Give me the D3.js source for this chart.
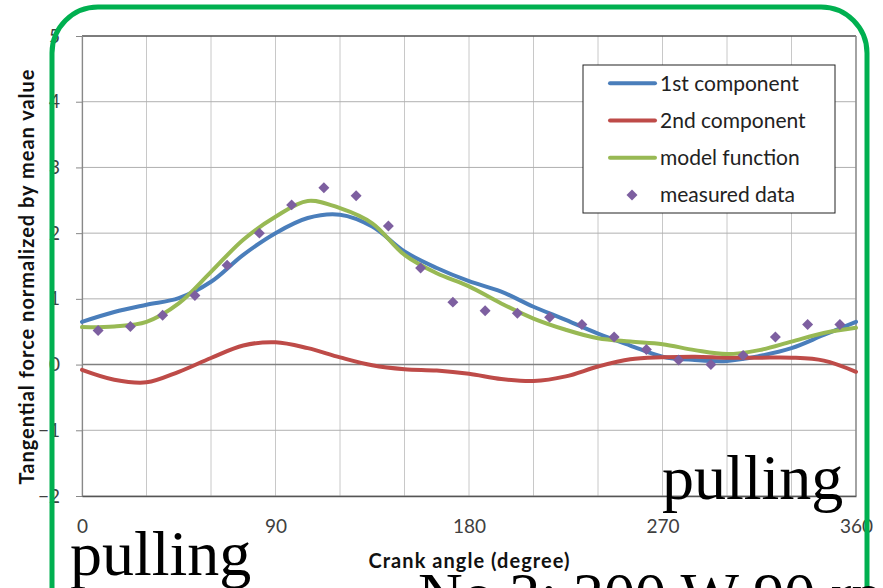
<!DOCTYPE html>
<html>
<head>
<meta charset="utf-8">
<script src="https://cdn.jsdelivr.net/npm/d3@7"></script>
<style>
  html, body { margin: 0; padding: 0; background: #fff; }
  svg { display: block; }
</style>
</head>
<body>
<svg id="chart" width="883" height="588"></svg>
<script>
// Crank angle (degree) at which the smooth curves are sampled
const curveAngles = [0, 15, 30, 45, 60, 75, 90, 105, 120, 135, 150, 165, 180,
  195, 210, 225, 240, 255, 270, 285, 300, 315, 330, 345, 360];

// 1st harmonic component of the normalized tangential force
const firstComponent = [0.65, 0.80, 0.91, 1.01, 1.26, 1.67, 2.00, 2.23, 2.28, 2.10, 1.72, 1.47, 1.27,
  1.11, 0.88, 0.68, 0.47, 0.29, 0.12, 0.07, 0.055, 0.13, 0.25, 0.45, 0.65];

// 2nd harmonic component
const secondComponent = [-0.08, -0.23, -0.27, -0.11, 0.10, 0.29, 0.34, 0.25, 0.11, -0.01, -0.07, -0.09, -0.14,
  -0.22, -0.25, -0.18, -0.03, 0.08, 0.11, 0.12, 0.105, 0.105, 0.105, 0.06, -0.11];

// Model function (sum of components)
const modelFunction = [0.57, 0.58, 0.65, 0.93, 1.41, 1.90, 2.25, 2.49, 2.38, 2.15, 1.67, 1.39, 1.19,
  0.93, 0.70, 0.53, 0.40, 0.35, 0.31, 0.22, 0.16, 0.22, 0.35, 0.48, 0.56];

// Measured samples
const measuredAngles = [7.5, 22.5, 37.5, 52.5, 67.5, 82.5, 97.5, 112.5, 127.5, 142.5, 157.5, 172.5,
  187.5, 202.5, 217.5, 232.5, 247.5, 262.5, 277.5, 292.5, 307.5, 322.5, 337.5, 352.5];
const measuredData = [0.52, 0.58, 0.75, 1.05, 1.51, 2.00, 2.43, 2.69, 2.57, 2.11, 1.47, 0.95,
  0.82, 0.78, 0.72, 0.61, 0.42, 0.23, 0.07, 0.00, 0.14, 0.42, 0.61, 0.61];

// Axis ticks and gridlines
const xTickValues = [0, 90, 180, 270, 360];
const xGridValues = [0, 30, 60, 90, 120, 150, 180, 210, 240, 270, 300, 330, 360];
const yTickValues = [-2, -1, 0, 1, 2, 3, 4, 5];

const seriesNames = ["1st component", "2nd component", "model function", "measured data"];
const seriesColors = ["#4a7ebb", "#be4b48", "#98b954", "#7d5fa0"];

const labelFont = "Lato, 'Open Sans', sans-serif";
const svg = d3.select("#chart");

const plot = { left: 82, top: 36, right: 856, bottom: 496 };
const x = d3.scaleLinear().domain([0, 360]).range([plot.left, plot.right]);
const y = d3.scaleLinear().domain([-2, 5]).range([plot.bottom, plot.top]);

// Gridlines
svg.append("g").selectAll("line").data(xGridValues).join("line")
  .attr("x1", d => x(d)).attr("x2", d => x(d))
  .attr("y1", plot.top).attr("y2", plot.bottom)
  .attr("stroke", "#c8c8c8").attr("stroke-width", 1);
svg.append("g").selectAll("line").data(yTickValues).join("line")
  .attr("x1", plot.left).attr("x2", plot.right)
  .attr("y1", d => y(d)).attr("y2", d => y(d))
  .attr("stroke", d => d === 0 ? "#808080" : "#b0b0b0")
  .attr("stroke-width", d => d === 0 ? 1.6 : 1);

// Plot frame
svg.append("line").attr("x1", plot.left).attr("x2", plot.right)
  .attr("y1", plot.top).attr("y2", plot.top).attr("stroke", "#222").attr("stroke-width", 1.2);
svg.append("line").attr("x1", plot.right).attr("x2", plot.right)
  .attr("y1", plot.top).attr("y2", plot.bottom).attr("stroke", "#888").attr("stroke-width", 1.4);

// Y axis
const yAxis = svg.append("g").attr("transform", `translate(${plot.left},0)`)
  .call(d3.axisLeft(y).tickValues(yTickValues).tickSize(6).tickPadding(16).tickFormat(d3.format("d")));
yAxis.select(".domain").attr("stroke", "#888").attr("stroke-width", 1.2);
yAxis.selectAll(".tick line").attr("stroke", "#888");
yAxis.selectAll(".tick text").attr("fill", "#404040")
  .style("font-family", labelFont).style("font-size", "19px");

// X axis
const xAxis = svg.append("g").attr("transform", `translate(0,${plot.bottom})`)
  .call(d3.axisBottom(x).tickValues(xTickValues).tickSize(0).tickPadding(24).tickFormat(d3.format("d")));
xAxis.select(".domain").attr("stroke", "#555").attr("stroke-width", 1.4);
xAxis.selectAll(".tick text").attr("fill", "#404040")
  .style("font-family", labelFont).style("font-size", "19px");

// Axis titles
svg.append("text")
  .attr("transform", `translate(34,277) rotate(-90)`)
  .attr("text-anchor", "middle")
  .attr("textLength", 415).attr("lengthAdjust", "spacing")
  .style("font-family", labelFont).style("font-weight", "bold").style("font-size", "20px")
  .attr("fill", "#111")
  .text("Tangential force normalized by mean value");
svg.append("text")
  .attr("x", x(180)).attr("y", 568)
  .attr("text-anchor", "middle")
  .attr("textLength", 201).attr("lengthAdjust", "spacing")
  .style("font-family", labelFont).style("font-weight", "bold").style("font-size", "20px")
  .attr("fill", "#111")
  .text("Crank angle (degree)");

// Curves
const line = d3.line().x(d => x(d[0])).y(d => y(d[1])).curve(d3.curveCatmullRom.alpha(0.5));
const curves = [firstComponent, secondComponent, modelFunction];
curves.forEach((vals, i) => {
  svg.append("path")
    .datum(curveAngles.map((a, k) => [a, vals[k]]))
    .attr("d", line)
    .attr("fill", "none")
    .attr("stroke", seriesColors[i])
    .attr("stroke-width", 4)
    .attr("stroke-linejoin", "round")
    .attr("stroke-linecap", "round");
});

// Measured points as diamonds (squares turned 45 degrees)
const diamond = d3.symbol().type(d3.symbolSquare).size(60);
svg.append("g").selectAll("path").data(measuredAngles.map((a, k) => [a, measuredData[k]])).join("path")
  .attr("transform", d => `translate(${x(d[0])},${y(d[1])}) rotate(45)`)
  .attr("d", diamond)
  .attr("fill", seriesColors[3]);

// Legend
const legend = svg.append("g").attr("transform", "translate(583,65)");
legend.append("rect").attr("width", 252).attr("height", 148)
  .attr("fill", "#fff").attr("stroke", "#222").attr("stroke-width", 1);
seriesNames.forEach((name, i) => {
  const cy = 18.3 + i * 37.2;
  if (i < 3) {
    legend.append("line").attr("x1", 27).attr("x2", 72).attr("y1", cy).attr("y2", cy)
      .attr("stroke", seriesColors[i]).attr("stroke-width", 4).attr("stroke-linecap", "round");
  } else {
    legend.append("path").attr("transform", `translate(49,${cy}) rotate(45)`)
      .attr("d", diamond).attr("fill", seriesColors[i]);
  }
  legend.append("text").attr("x", 77).attr("y", cy + 7.5)
    .style("font-family", labelFont).style("font-size", "21px")
    .attr("fill", "#222").text(name);
});

// Rounded green frame
svg.append("rect")
  .attr("x", 52).attr("y", 7).attr("width", 815).attr("height", 700).attr("rx", 46)
  .attr("fill", "none").attr("stroke", "#00b050").attr("stroke-width", 5);

// Large serif annotations
const serif = "'Liberation Serif', 'Times New Roman', serif";
svg.append("text").attr("x", 70).attr("y", 575)
  .style("font-family", serif).style("font-size", "64px").attr("fill", "#000").text("pulling");
svg.append("text").attr("x", 662).attr("y", 499)
  .style("font-family", serif).style("font-size", "64px").attr("fill", "#000").text("pulling");
svg.append("text").attr("x", 418).attr("y", 615)
  .style("font-family", serif).style("font-size", "62px").attr("fill", "#000").text("No.2: 200 W 90 rpm");
</script>
</body>
</html>
